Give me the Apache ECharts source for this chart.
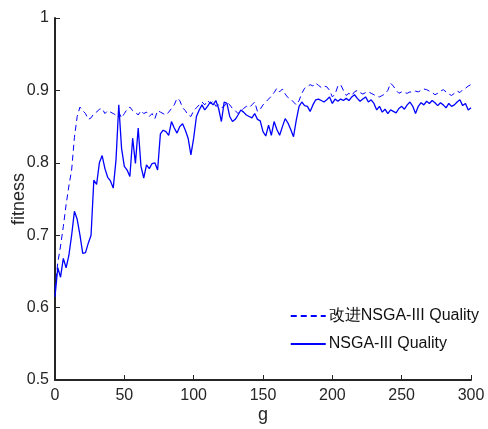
<!DOCTYPE html>
<html>
<head>
<meta charset="utf-8">
<script src="https://cdn.jsdelivr.net/npm/echarts@6/dist/echarts.min.js"></script>
<style>
  html, body { margin: 0; padding: 0; background: #fff; }
  #chart { width: 488px; height: 429px; }
</style>
</head>
<body>
<div id="chart"></div>
<script>
// generation step of the samples
var genStep = 2;

// 改进NSGA-III Quality (dashed)
var improvedQuality = [
    0.625, 0.662, 0.685, 0.712, 0.742, 0.768, 0.790, 0.835, 0.864, 0.877,
    0.872, 0.868, 0.860, 0.862, 0.868, 0.870, 0.874, 0.875, 0.868, 0.872,
    0.870, 0.868, 0.866, 0.870, 0.862, 0.868, 0.874, 0.877, 0.872, 0.870,
    0.866, 0.872, 0.868, 0.870, 0.864, 0.868, 0.861, 0.872, 0.870, 0.868,
    0.866, 0.870, 0.875, 0.880, 0.889, 0.886, 0.876, 0.872, 0.866, 0.864,
    0.872, 0.876, 0.880, 0.884, 0.880, 0.886, 0.882, 0.885, 0.878, 0.880,
    0.876, 0.878, 0.884, 0.880, 0.875, 0.872, 0.868, 0.872, 0.875, 0.878,
    0.876, 0.880, 0.884, 0.871, 0.874, 0.880, 0.884, 0.888, 0.892, 0.897,
    0.903, 0.898, 0.902, 0.895, 0.890, 0.888, 0.884, 0.880, 0.886, 0.896,
    0.903, 0.905, 0.908, 0.906, 0.910, 0.907, 0.904, 0.906, 0.905, 0.900,
    0.891, 0.895, 0.906, 0.908, 0.900, 0.893, 0.896, 0.893, 0.898, 0.900,
    0.897, 0.895, 0.897, 0.898, 0.896, 0.894, 0.892, 0.891, 0.893, 0.895,
    0.900, 0.910, 0.906, 0.900, 0.896, 0.898, 0.897, 0.896, 0.898, 0.897,
    0.899, 0.898, 0.900, 0.902, 0.901, 0.899, 0.897, 0.894, 0.896, 0.899,
    0.901, 0.898, 0.895, 0.893, 0.896, 0.899, 0.897, 0.901, 0.903, 0.906,
    0.908
];

// NSGA-III Quality (solid)
var baseQuality = [
    0.615, 0.655, 0.642, 0.668, 0.655, 0.672, 0.700, 0.733, 0.722, 0.700,
    0.675, 0.676, 0.689, 0.700, 0.776, 0.770, 0.800, 0.810, 0.792, 0.780,
    0.775, 0.765, 0.804, 0.880, 0.820, 0.795, 0.790, 0.781, 0.834, 0.799,
    0.848, 0.795, 0.779, 0.797, 0.792, 0.799, 0.800, 0.790, 0.840, 0.845,
    0.843, 0.838, 0.857, 0.848, 0.841, 0.850, 0.854, 0.845, 0.834, 0.811,
    0.834, 0.864, 0.873, 0.880, 0.873, 0.878, 0.884, 0.880, 0.886, 0.875,
    0.857, 0.884, 0.882, 0.864, 0.857, 0.860, 0.866, 0.873, 0.870, 0.866,
    0.864, 0.862, 0.868, 0.860, 0.858, 0.843, 0.837, 0.852, 0.838, 0.857,
    0.846, 0.838, 0.850, 0.861, 0.855, 0.846, 0.836, 0.859, 0.878, 0.884,
    0.879, 0.878, 0.871, 0.880, 0.887, 0.888, 0.886, 0.884, 0.887, 0.891,
    0.882, 0.888, 0.885, 0.888, 0.886, 0.889, 0.886, 0.891, 0.894, 0.889,
    0.885, 0.888, 0.891, 0.884, 0.887, 0.882, 0.873, 0.878, 0.870, 0.874,
    0.868, 0.873, 0.871, 0.869, 0.875, 0.878, 0.874, 0.880, 0.884, 0.878,
    0.868, 0.878, 0.883, 0.880, 0.885, 0.882, 0.886, 0.883, 0.879, 0.883,
    0.880, 0.876, 0.882, 0.878, 0.880, 0.884, 0.887, 0.879, 0.882, 0.873,
    0.876
];

var seriesNames = ['改进NSGA-III Quality', 'NSGA-III Quality'];

function toPoints(values) {
    var pts = [];
    for (var i = 0; i < values.length; i++) {
        pts.push([i * genStep, values[i]]);
    }
    return pts;
}

var fontFamily = "'Liberation Sans', Arial, sans-serif";
var axisColor = '#262626';

var chart = echarts.init(document.getElementById('chart'));

var option = {
    animation: false,
    backgroundColor: '#fff',
    grid: { left: 55, right: 17, top: 18, bottom: 49, outerBoundsMode: 'none', containLabel: false },
    legend: {
        right: 4,
        top: 303,
        orient: 'vertical',
        itemWidth: 35,
        itemHeight: 12,
        itemGap: 12,
        itemStyle: { opacity: 0 },
        textStyle: { fontFamily: fontFamily, fontSize: 16, color: '#111', padding: [0, 0, 0, -2] },
        data: seriesNames
    },
    xAxis: {
        type: 'value',
        min: 0, max: 300, interval: 50,
        name: 'g',
        nameLocation: 'middle',
        nameGap: 26,
        nameMoveOverlap: false,
        nameTextStyle: { fontFamily: fontFamily, fontSize: 18, color: axisColor },
        axisLine: { lineStyle: { color: axisColor, width: 2 } },
        axisTick: { inside: true, length: 5, lineStyle: { color: axisColor } },
        axisLabel: { fontFamily: fontFamily, fontSize: 16, color: axisColor, margin: 8 },
        splitLine: { show: false }
    },
    yAxis: {
        type: 'value',
        min: 0.5, max: 1, interval: 0.1,
        name: 'fitness',
        nameLocation: 'middle',
        nameGap: 27,
        nameMoveOverlap: false,
        nameTextStyle: { fontFamily: fontFamily, fontSize: 18, color: axisColor },
        axisLine: { show: true, lineStyle: { color: axisColor, width: 2 } },
        axisTick: { show: true, inside: true, length: 5, lineStyle: { color: axisColor } },
        axisLabel: {
            fontFamily: fontFamily, fontSize: 16, color: axisColor, margin: 6,
            formatter: function (v) { return String(+v.toFixed(1)); }
        },
        splitLine: { show: false }
    },
    series: [
        {
            name: seriesNames[0],
            type: 'line',
            symbol: 'none',
            data: toPoints(improvedQuality),
            lineStyle: { color: '#0000ff', width: 1, type: [6, 4] },
            itemStyle: { color: '#0000ff' }
        },
        {
            name: seriesNames[1],
            type: 'line',
            symbol: 'none',
            data: toPoints(baseQuality),
            lineStyle: { color: '#0000ff', width: 1.3 },
            itemStyle: { color: '#0000ff' }
        }
    ]
};
chart.setOption(option);
</script>
</body>
</html>
